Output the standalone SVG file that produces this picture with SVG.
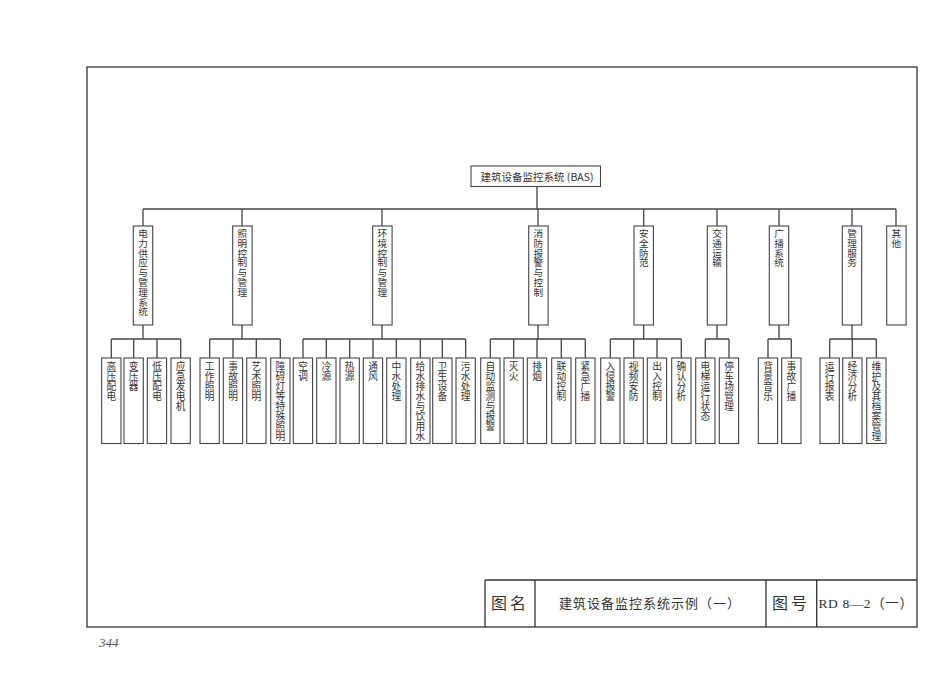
<svg xmlns="http://www.w3.org/2000/svg" width="950" height="684" viewBox="0 0 950 684">
<style>
.bg{fill:#fff}
.frame{fill:none;stroke:#333;stroke-width:1.3}
.box{fill:#fff;stroke:#444;stroke-width:1.1}
.ln{fill:none;stroke:#444;stroke-width:1.3}
.vt{font-family:"Noto Sans CJK SC","Noto Sans CJK JP",sans-serif;writing-mode:vertical-rl;text-orientation:upright;fill:#333}
.l2{font-size:9.6px;letter-spacing:0.2px}
.l3{font-size:9.7px;letter-spacing:0.3px}
.top{font-family:"Noto Sans CJK SC",sans-serif;font-size:10.5px;fill:#333}
.tb{font-family:"Noto Sans CJK SC",serif;fill:#333}
.pg{font-family:"Liberation Serif",serif;font-style:italic;font-size:13px;fill:#555}
</style>
<rect class="bg" x="0" y="0" width="950" height="684"/>
<rect class="frame" x="87" y="67" width="830" height="560"/>

<g id="connectors">
<path class="ln" d="M537 187V209M143 209H896"/>
<path class="ln" d="M143 209V226M242 209V226M382 209V226M538 209V226M643.7 209V226M717 209V226M779 209V226M852 209V226M896 209V226"/>
<path class="ln" d="M143 325V339M111.3 339H180.7M111.3 339V358M133.7 339V358M157 339V358M180.7 339V358"/>
<path class="ln" d="M242 325V339M209.7 339H280.3M209.7 339V358M233 339V358M256.3 339V358M280.3 339V358"/>
<path class="ln" d="M382 325V339M303 339H465.7M303 339V358M326.3 339V358M349.7 339V358M373 339V358M396.3 339V358M420.3 339V358M442.3 339V358M465.7 339V358"/>
<path class="ln" d="M538 325V339M490.3 339H585.3M490.3 339V358M513.7 339V358M537 339V358M561.3 339V358M585.3 339V358"/>
<path class="ln" d="M643.7 325V339M610.3 339H681.3M610.3 339V358M633.7 339V358M657 339V358M681.3 339V358"/>
<path class="ln" d="M717 325V339M705.3 339H729M705.3 339V358M729 339V358"/>
<path class="ln" d="M779 325V339M768 339H791.3M768 339V358M791.3 339V358"/>
<path class="ln" d="M852 325V339M829.7 339H876.3M829.7 339V358M852.3 339V358M876.3 339V358"/>
</g>

<g id="root"><rect class="box" x="471" y="166" width="129.5" height="20.5"/><text class="top" x="537" y="180.5" text-anchor="middle">建筑设备监控系统 (BAS)</text></g>

<g id="n-power"><rect class="box" x="133.3" y="226" width="19.4" height="99"/><text class="vt l2" x="143" y="228.5">电力供应与管理系统</text></g>
<g id="n-light"><rect class="box" x="232.7" y="226" width="19.4" height="99"/><text class="vt l2" x="242.4" y="228.5">照明控制与管理</text></g>
<g id="n-env"><rect class="box" x="372.7" y="226" width="19.4" height="99"/><text class="vt l2" x="382.4" y="228.5">环境控制与管理</text></g>
<g id="n-fire"><rect class="box" x="528.7" y="226" width="19.4" height="99"/><text class="vt l2" x="538.4" y="228.5">消防报警与控制</text></g>
<g id="n-sec"><rect class="box" x="634" y="226" width="19.4" height="99"/><text class="vt l2" x="643.7" y="228.5">安全防范</text></g>
<g id="n-trans"><rect class="box" x="707.3" y="226" width="19.4" height="99"/><text class="vt l2" x="717" y="228.5">交通运输</text></g>
<g id="n-bcast"><rect class="box" x="769.3" y="226" width="19.4" height="99"/><text class="vt l2" x="779" y="228.5">广播系统</text></g>
<g id="n-mgmt"><rect class="box" x="842.3" y="226" width="19.4" height="99"/><text class="vt l2" x="852" y="228.5">管理服务</text></g>
<g id="n-other"><rect class="box" x="886.7" y="226" width="19.4" height="99"/><text class="vt l2" x="896.4" y="228.5">其他</text></g>

<g id="c1"><rect class="box" x="101.7" y="358" width="19.3" height="85.5"/><text class="vt l3" x="111.3" y="361">高压配电</text></g>
<g id="c2"><rect class="box" x="124" y="358" width="19.3" height="85.5"/><text class="vt l3" x="133.7" y="361">变压器</text></g>
<g id="c3"><rect class="box" x="147.3" y="358" width="19.3" height="85.5"/><text class="vt l3" x="157" y="361">低压配电</text></g>
<g id="c4"><rect class="box" x="171" y="358" width="19.3" height="85.5"/><text class="vt l3" x="180.7" y="361">应急发电机</text></g>
<g id="c5"><rect class="box" x="200" y="358" width="19.3" height="85.5"/><text class="vt l3" x="209.7" y="361">工作照明</text></g>
<g id="c6"><rect class="box" x="223.3" y="358" width="19.3" height="85.5"/><text class="vt l3" x="233" y="361">事故照明</text></g>
<g id="c7"><rect class="box" x="246.7" y="358" width="19.3" height="85.5"/><text class="vt l3" x="256.3" y="361">艺术照明</text></g>
<g id="c8"><rect class="box" x="270.7" y="358" width="19.3" height="85.5"/><text class="vt l3" x="280.3" y="361">障碍灯等特殊照明</text></g>
<g id="c9"><rect class="box" x="293.3" y="358" width="19.3" height="85.5"/><text class="vt l3" x="303" y="361">空调</text></g>
<g id="c10"><rect class="box" x="316.7" y="358" width="19.3" height="85.5"/><text class="vt l3" x="326.3" y="361">冷源</text></g>
<g id="c11"><rect class="box" x="340" y="358" width="19.3" height="85.5"/><text class="vt l3" x="349.7" y="361">热源</text></g>
<g id="c12"><rect class="box" x="363.3" y="358" width="19.3" height="85.5"/><text class="vt l3" x="373" y="361">通风</text></g>
<g id="c13"><rect class="box" x="386.7" y="358" width="19.3" height="85.5"/><text class="vt l3" x="396.3" y="361">中水处理</text></g>
<g id="c14"><rect class="box" x="410.7" y="358" width="19.3" height="85.5"/><text class="vt l3" x="420.3" y="361">给水排水与饮用水</text></g>
<g id="c15"><rect class="box" x="432.7" y="358" width="19.3" height="85.5"/><text class="vt l3" x="442.3" y="361">卫生设备</text></g>
<g id="c16"><rect class="box" x="456" y="358" width="19.3" height="85.5"/><text class="vt l3" x="465.7" y="361">污水处理</text></g>
<g id="c17"><rect class="box" x="480.7" y="358" width="19.3" height="85.5"/><text class="vt l3" x="490.3" y="361">自动监测与报警</text></g>
<g id="c18"><rect class="box" x="504" y="358" width="19.3" height="85.5"/><text class="vt l3" x="513.7" y="361">灭火</text></g>
<g id="c19"><rect class="box" x="527.3" y="358" width="19.3" height="85.5"/><text class="vt l3" x="537" y="361">排烟</text></g>
<g id="c20"><rect class="box" x="551.7" y="358" width="19.3" height="85.5"/><text class="vt l3" x="561.3" y="361">联动控制</text></g>
<g id="c21"><rect class="box" x="575.7" y="358" width="19.3" height="85.5"/><text class="vt l3" x="585.3" y="361">紧急广播</text></g>
<g id="c22"><rect class="box" x="600.7" y="358" width="19.3" height="85.5"/><text class="vt l3" x="610.3" y="361">入侵报警</text></g>
<g id="c23"><rect class="box" x="624" y="358" width="19.3" height="85.5"/><text class="vt l3" x="633.7" y="361">视频安防</text></g>
<g id="c24"><rect class="box" x="647.3" y="358" width="19.3" height="85.5"/><text class="vt l3" x="657" y="361">出入控制</text></g>
<g id="c25"><rect class="box" x="671.7" y="358" width="19.3" height="85.5"/><text class="vt l3" x="681.3" y="361">确认分析</text></g>
<g id="c26"><rect class="box" x="695.7" y="358" width="19.3" height="85.5"/><text class="vt l3" x="705.3" y="361">电梯运行状态</text></g>
<g id="c27"><rect class="box" x="719.3" y="358" width="19.3" height="85.5"/><text class="vt l3" x="729" y="361">停车场管理</text></g>
<g id="c28"><rect class="box" x="758.3" y="358" width="19.3" height="85.5"/><text class="vt l3" x="768" y="361">背景音乐</text></g>
<g id="c29"><rect class="box" x="781.7" y="358" width="19.3" height="85.5"/><text class="vt l3" x="791.3" y="361">事故广播</text></g>
<g id="c30"><rect class="box" x="820" y="358" width="19.3" height="85.5"/><text class="vt l3" x="829.7" y="361">运行报表</text></g>
<g id="c31"><rect class="box" x="842.7" y="358" width="19.3" height="85.5"/><text class="vt l3" x="852.3" y="361">经济分析</text></g>
<g id="c32"><rect class="box" x="866.7" y="358" width="19.3" height="85.5"/><text class="vt l3" x="876.3" y="361">维护及其档案管理</text></g>

<g id="titleblock">
<path class="frame" d="M485 580H917M485 580V627M535 580V627M766 580V627M816.7 580V627"/>
<text class="tb" x="510" y="609" font-size="16" text-anchor="middle" letter-spacing="3">图名</text>
<text class="tb" x="650" y="608" font-size="13" text-anchor="middle" letter-spacing="1">建筑设备监控系统示例（一）</text>
<text class="tb" x="791" y="609" font-size="16" text-anchor="middle" letter-spacing="3">图号</text>
<text x="866" y="608" font-family="Liberation Serif, Noto Sans CJK SC, serif" font-size="13.5" fill="#333" text-anchor="middle" letter-spacing="0.6">RD 8—2（一）</text>
</g>
<text class="pg" x="99" y="647">344</text>
</svg>
